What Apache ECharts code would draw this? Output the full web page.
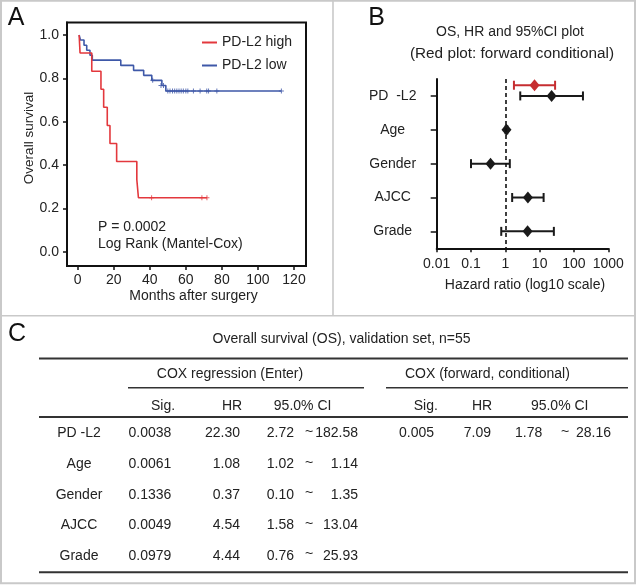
<!DOCTYPE html>
<html>
<head>
<meta charset="utf-8">
<script src="https://cdn.jsdelivr.net/npm/echarts@6/dist/echarts.min.js"></script>
<style>
html,body{margin:0;padding:0;background:#fff;}
#c{width:638px;height:585px;}
</style>
</head>
<body>
<div id="c"></div>
<script>
// ---------- Panel A: Kaplan-Meier data ----------
const kmHighMonths = [0.8, 1.3, 7.8, 12.9, 14.4, 16.4, 17.9, 21.6, 32.8, 33.7, 71.7];
const kmHighSurv   = [1.0, 0.917, 0.833, 0.750, 0.667, 0.583, 0.500, 0.417, 0.333, 0.250, 0.250];
const kmHighCensorMonths = [41.0, 68.9, 71.7];
const kmHighCensorSurv   = [0.250, 0.250, 0.250];
const kmLowMonths = [0.8, 1.5, 3.5, 5.0, 6.8, 8.1, 23.9, 31.0, 36.6, 41.1, 46.7, 48.9, 113.0];
const kmLowSurv   = [1.0, 0.977, 0.953, 0.930, 0.907, 0.884, 0.860, 0.837, 0.814, 0.791, 0.767, 0.742, 0.742];
const kmLowCensorMonths = [41.6, 46.2, 47.6, 50.0, 51.2, 52.6, 53.8, 55.0, 56.2, 57.4, 58.6, 60.0, 61.1, 64.2, 67.9, 71.6, 72.6, 77.2, 113.0];
const kmLowCensorSurv   = [0.791, 0.767, 0.767, 0.742, 0.742, 0.742, 0.742, 0.742, 0.742, 0.742, 0.742, 0.742, 0.742, 0.742, 0.742, 0.742, 0.742, 0.742, 0.742];
const kmSeriesNames = ['PD-L2 high', 'PD-L2 low'];
const kmXTicks = [0, 20, 40, 60, 80, 100, 120];
const kmYTicks = [0, 0.2, 0.4, 0.6, 0.8, 1.0];
const kmXRange = [-5.94, 126.66];
const kmYRange = [-0.0645, 1.0576];

// ---------- Panel B / C: Cox regression data ----------
const forestLabels = ['PD  -L2', 'Age', 'Gender', 'AJCC', 'Grade'];
const tableVars    = ['PD -L2', 'Age', 'Gender', 'AJCC', 'Grade'];
const enterSig  = [0.0038, 0.0061, 0.1336, 0.0049, 0.0979];
const enterHR   = [22.30, 1.08, 0.37, 4.54, 4.44];
const enterLow  = [2.72, 1.02, 0.10, 1.58, 0.76];
const enterHigh = [182.58, 1.14, 1.35, 13.04, 25.93];
const fwdSig  = [0.005];
const fwdHR   = [7.09];
const fwdLow  = [1.78];
const fwdHigh = [28.16];
const forestXRange = [0.01, 1000];

// ---------- styling ----------
const FONT = "'Liberation Sans', Arial, Helvetica, sans-serif";
const RED_A = '#e3383d';
const BLUE_A = '#3e58a8';
const RED_B = '#c62d30';
const INK = '#1a1a1a';
const TXT = '#222';
const GRAYLINE = '#c9c9c9';

const plusPath = 'path://M2,0H3V2H5V3H3V5H2V3H0V2H2Z';

function pairs(xs, ys) { return xs.map((x, i) => [x, ys[i]]); }

function errRender(offsetY, color) {
  return function (params, api) {
    const cat = api.value(1);
    const lo = api.coord([api.value(2), cat]);
    const hi = api.coord([api.value(3), cat]);
    const y = lo[1] + offsetY;
    const cap = 4.5;
    const st = { stroke: color, lineWidth: 2 };
    return {
      type: 'group',
      children: [
        { type: 'line', shape: { x1: lo[0], y1: y, x2: hi[0], y2: y }, style: st },
        { type: 'line', shape: { x1: lo[0], y1: y - cap, x2: lo[0], y2: y + cap }, style: st },
        { type: 'line', shape: { x1: hi[0], y1: y - cap, x2: hi[0], y2: y + cap }, style: st }
      ]
    };
  };
}

// ---------- graphic helpers ----------
const G = [];
function txt(x, y, s, o) {
  o = o || {};
  const align = o.align || 'left';
  const size = o.size || 14;
  const el = {
    type: 'text', x: x, y: y, silent: true, z: 10,
    style: {
      text: s, fill: o.fill || TXT, font: size + 'px ' + FONT,
      align: align, verticalAlign: 'middle',
      textAlign: align, textVerticalAlign: 'middle'
    }
  };
  if (o.rotation) el.rotation = o.rotation;
  G.push(el);
}
function ln(x1, y1, x2, y2, w, c) {
  G.push({ type: 'line', silent: true, z: 10, shape: { x1: x1, y1: y1, x2: x2, y2: y2 },
    style: { stroke: c || '#333', lineWidth: w } });
}

// panel borders
G.push({ type: 'rect', silent: true, z: 0, shape: { x: 1, y: 0.8, width: 634, height: 582.4 },
  style: { fill: 'none', stroke: GRAYLINE, lineWidth: 2 } });
ln(0, 315.7, 635, 315.7, 1.6, GRAYLINE);
ln(333, 0, 333, 315.7, 1.6, GRAYLINE);

// Panel A decorations
txt(16, 18, 'A', { align: 'center', size: 25, fill: '#111' });
txt(29, 138, 'Overall survival', { align: 'center', size: 13.5, rotation: Math.PI / 2 });
txt(193.5, 296, 'Months after surgery', { align: 'center' });
txt(98, 227.5, 'P = 0.0002');
txt(98, 244.5, 'Log Rank (Mantel-Cox)');

// Panel B decorations
txt(376.5, 18, 'B', { align: 'center', size: 25, fill: '#111' });
txt(510, 32, 'OS, HR and 95%CI plot', { align: 'center' });
txt(512, 53.5, '(Red plot: forward conditional)', { align: 'center', size: 15.3 });
txt(525, 285, 'Hazard ratio (log10 scale)', { align: 'center' });

// Panel C table
txt(17, 334, 'C', { align: 'center', size: 25, fill: '#111' });
txt(341.5, 339, 'Overall survival (OS), validation set, n=55', { align: 'center' });
ln(39, 358.4, 628, 358.4, 2);
txt(230, 374, 'COX regression (Enter)', { align: 'center' });
txt(487.4, 374, 'COX (forward, conditional)', { align: 'center' });
ln(128, 387.8, 364, 387.8, 1.6);
ln(386, 387.8, 628, 387.8, 1.6);
txt(163, 406, 'Sig.', { align: 'center' });
txt(232, 406, 'HR', { align: 'center' });
txt(302.6, 406, '95.0% CI', { align: 'center' });
txt(425.8, 406, 'Sig.', { align: 'center' });
txt(482, 406, 'HR', { align: 'center' });
txt(559.7, 406, '95.0% CI', { align: 'center' });
ln(39, 417, 628, 417, 2);
const rowY0 = 433.5, rowDY = 30.65;
tableVars.forEach(function (v, i) {
  const y = rowY0 + i * rowDY;
  txt(79, y, v, { align: 'center' });
  txt(128.5, y, String(enterSig[i]));
  txt(240, y, enterHR[i].toFixed(2), { align: 'right' });
  txt(266.7, y, enterLow[i].toFixed(2));
  txt(309, y - 1.5, '~', { align: 'center' });
  txt(358, y, enterHigh[i].toFixed(2), { align: 'right' });
});
fwdSig.forEach(function (s, i) {
  const y = rowY0 + i * rowDY;
  txt(399, y, String(s));
  txt(491, y, fwdHR[i].toFixed(2), { align: 'right' });
  txt(515, y, fwdLow[i].toFixed(2));
  txt(565, y - 1.5, '~', { align: 'center' });
  txt(611, y, fwdHigh[i].toFixed(2), { align: 'right' });
});
ln(39, 572.3, 628, 572.3, 2);

const chart = echarts.init(document.getElementById('c'), null, { renderer: 'canvas' });
const option = {
  animation: false,
  backgroundColor: '#fff',
  textStyle: { fontFamily: FONT },
  legend: {
    data: kmSeriesNames, orient: 'vertical', left: 202, top: 35.5,
    itemWidth: 15, itemHeight: 2, itemGap: 9, icon: 'rect', padding: 0,
    selectedMode: false,
    textStyle: { fontSize: 14, color: TXT, fontFamily: FONT }
  },
  grid: [
    { left: 67, top: 22.5, width: 239, height: 243.5, show: true, borderColor: '#111', borderWidth: 2, backgroundColor: 'transparent' },
    { left: 436.7, top: 79, width: 171.6, height: 169.3 }
  ],
  xAxis: [
    {
      gridIndex: 0, type: 'value', min: kmXRange[0], max: kmXRange[1],
      axisLine: { show: true, onZero: false, lineStyle: { color: '#111', width: 2 } },
      splitLine: { show: false },
      axisTick: { show: true, length: 4, customValues: kmXTicks, lineStyle: { color: '#111', width: 1.5 } },
      axisLabel: { fontSize: 14, color: TXT, margin: 7, fontFamily: FONT, customValues: kmXTicks }
    },
    {
      gridIndex: 1, type: 'log', logBase: 10, min: forestXRange[0], max: forestXRange[1],
      axisLine: { show: true, onZero: false, lineStyle: { color: '#111', width: 2 } },
      axisTick: { show: true, length: 4, lineStyle: { color: '#111', width: 1.5 } },
      splitLine: { show: false },
      axisLabel: { fontSize: 14, color: TXT, margin: 9, fontFamily: FONT,
        formatter: function (v) { return String(+(+v).toPrecision(6)); } }
    }
  ],
  yAxis: [
    {
      gridIndex: 0, type: 'value', min: kmYRange[0], max: kmYRange[1],
      axisLine: { show: true, onZero: false, lineStyle: { color: '#111', width: 2 } },
      splitLine: { show: false },
      axisTick: { show: true, length: 4, customValues: kmYTicks, lineStyle: { color: '#111', width: 1.5 } },
      axisLabel: { fontSize: 14, color: TXT, margin: 8, fontFamily: FONT, customValues: kmYTicks,
        formatter: function (v) { return (+v).toFixed(1); } }
    },
    {
      gridIndex: 1, type: 'category', inverse: true, data: forestLabels,
      axisLine: { show: true, lineStyle: { color: '#111', width: 2 } },
      axisTick: { show: true, alignWithLabel: true, length: 6, lineStyle: { color: '#111', width: 1.5 } },
      splitLine: { show: false },
      axisLabel: { fontSize: 14, color: TXT, margin: 44, align: 'center', fontFamily: FONT }
    }
  ],
  series: [
    {
      name: kmSeriesNames[0], type: 'line', step: 'end', xAxisIndex: 0, yAxisIndex: 0,
      data: pairs(kmHighMonths, kmHighSurv), showSymbol: false, z: 3,
      itemStyle: { color: RED_A }, lineStyle: { color: RED_A, width: 1.6 }
    },
    {
      name: kmSeriesNames[1], type: 'line', step: 'end', xAxisIndex: 0, yAxisIndex: 0,
      data: pairs(kmLowMonths, kmLowSurv), showSymbol: false, z: 2,
      itemStyle: { color: BLUE_A }, lineStyle: { color: BLUE_A, width: 1.6 }
    },
    {
      name: 'high censored', type: 'scatter', xAxisIndex: 0, yAxisIndex: 0,
      data: pairs(kmHighCensorMonths, kmHighCensorSurv), symbol: plusPath, symbolSize: 5, z: 4,
      itemStyle: { color: RED_A }
    },
    {
      name: 'low censored', type: 'scatter', xAxisIndex: 0, yAxisIndex: 0,
      data: pairs(kmLowCensorMonths, kmLowCensorSurv), symbol: plusPath, symbolSize: 5, z: 4,
      itemStyle: { color: BLUE_A }
    },
    {
      name: 'enter CI', type: 'custom', xAxisIndex: 1, yAxisIndex: 1,
      renderItem: errRender(0, INK),
      encode: { x: [0, 2, 3], y: 1 },
      data: enterHR.map(function (h, i) { return [h, i, enterLow[i], enterHigh[i]]; }), z: 2
    },
    {
      name: 'enter HR', type: 'scatter', xAxisIndex: 1, yAxisIndex: 1,
      data: enterHR.map(function (h, i) { return [h, i]; }),
      symbol: 'diamond', symbolSize: [10, 12], itemStyle: { color: INK, opacity: 1 }, z: 4,
      markLine: {
        silent: true, symbol: ['none', 'none'], label: { show: false },
        lineStyle: { type: [4, 3], color: '#111', width: 1.6 },
        data: [{ xAxis: 1 }]
      }
    },
    {
      name: 'forward CI', type: 'custom', xAxisIndex: 1, yAxisIndex: 1,
      renderItem: errRender(-10.7, RED_B),
      encode: { x: [0, 2, 3], y: 1 },
      data: fwdHR.map(function (h, i) { return [h, i, fwdLow[i], fwdHigh[i]]; }), z: 2
    },
    {
      name: 'forward HR', type: 'scatter', xAxisIndex: 1, yAxisIndex: 1,
      data: fwdHR.map(function (h, i) { return [h, i]; }),
      symbol: 'diamond', symbolSize: [10, 12], symbolOffset: [0, -10.7],
      itemStyle: { color: RED_B, opacity: 1 }, z: 4
    }
  ],
  graphic: { elements: G }
};
chart.setOption(option);
</script>
</body>
</html>
